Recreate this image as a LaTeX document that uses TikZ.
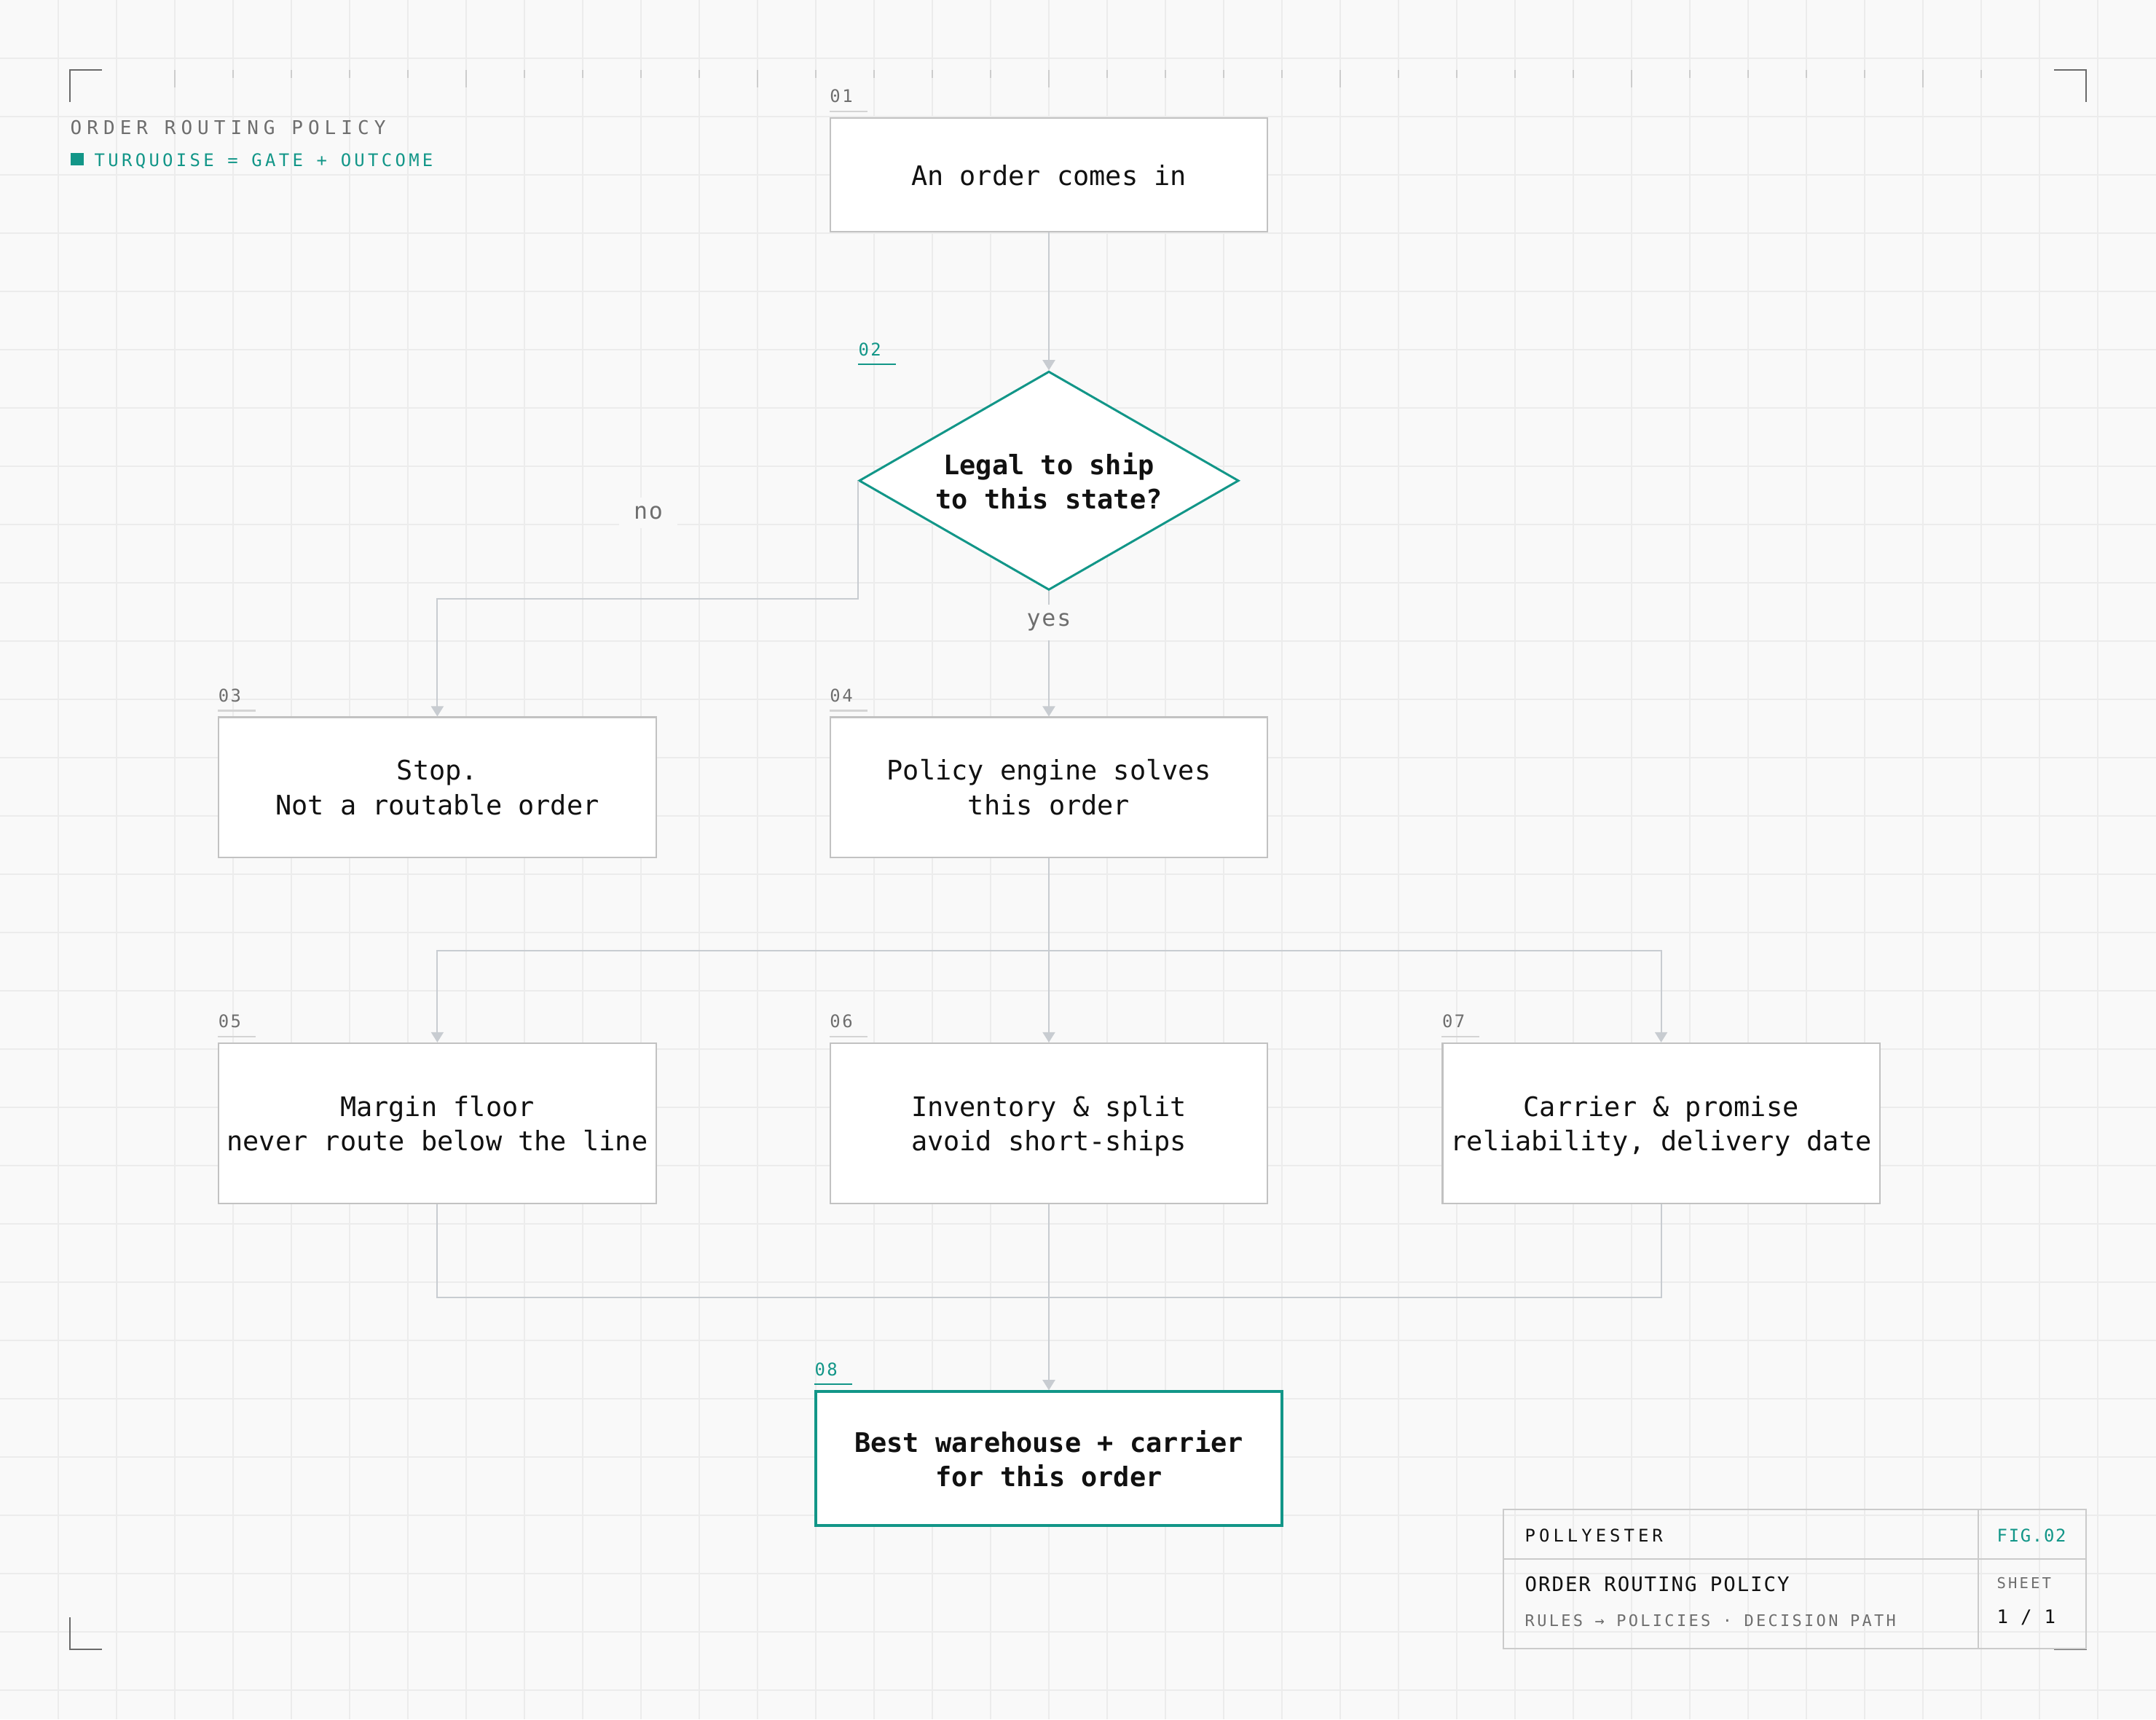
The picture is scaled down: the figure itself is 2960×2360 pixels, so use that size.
\documentclass[tikz,border=0pt]{standalone}
\usepackage{fontspec}
\setmainfont{DejaVu Sans Mono}
\usepackage{tikz}
\usetikzlibrary{shapes.geometric, arrows.meta, positioning, calc}
\definecolor{PageBG}{RGB}{249,249,249}
\definecolor{GridGray}{RGB}{236,236,236}
\definecolor{EdgeGray}{RGB}{194,194,194}
\definecolor{WireGray}{RGB}{200,204,209}
\definecolor{TickGray}{RGB}{205,205,205}
\definecolor{CornerGray}{RGB}{106,106,106}
\definecolor{LabelGray}{RGB}{110,110,110}
\definecolor{InkBlack}{RGB}{17,17,17}
\definecolor{GateTeal}{RGB}{18,150,136}
\newcommand{\trackby}[1]{\addfontfeatures{LetterSpace=#1}}

\begin{document}
\begin{tikzpicture}[
    x=0.01cm, y=-0.01cm,
    stepbox/.style={rectangle, draw=EdgeGray, line width=0.6pt, fill=white, text=InkBlack,
                    minimum width=6cm, inner sep=0pt, text depth=0pt, align=center,
                    font=\fontsize{10.5}{13.5}\selectfont},
    gatebox/.style={rectangle, draw=GateTeal, line width=1.1pt, fill=white, text=InkBlack,
                    minimum width=6.4cm, inner sep=0pt, text depth=0pt, align=center,
                    font=\fontsize{10.5}{13.5}\selectfont\bfseries},
    decision/.style={diamond, draw=GateTeal, line width=0.85pt, fill=white, text=InkBlack,
                     minimum width=5.21cm, minimum height=3cm, aspect=1.74, inner sep=0pt,
                     text depth=-0.07cm, align=center, font=\fontsize{10.5}{13.5}\selectfont\bfseries},
    tag/.style={anchor=base west, inner sep=0pt, text=LabelGray, font=\fontsize{6.8}{8}\selectfont\trackby{10}},
    gatetag/.style={tag, text=GateTeal},
    tagline/.style={draw=EdgeGray!70, line width=0.6pt},
    gatetagline/.style={draw=GateTeal, line width=0.6pt},
    branchlbl/.style={fill=PageBG, text=LabelGray, inner xsep=0.2cm, inner ysep=0.12cm,
                      font=\fontsize{9}{10}\selectfont\trackby{6}},
    wire/.style={draw=WireGray, line width=0.6pt},
    arrow/.style={wire, -{Triangle[width=0.17cm, length=0.14cm]}},
    gridline/.style={draw=GridGray, line width=0.5pt},
    tickmark/.style={draw=TickGray, line width=0.5pt},
    cornermark/.style={draw=CornerGray, line width=0.7pt},
    sheettext/.style={anchor=base west, inner sep=0pt, text=InkBlack}
]
\useasboundingbox (0,0) rectangle (2960,2360);
\fill[PageBG] (0,0) rectangle (2960,2360);

% Grid
\foreach \gx in {80,160,...,2880} \draw[gridline] (\gx,0) -- (\gx,2360);
\foreach \gy in {80,160,...,2320} \draw[gridline] (0,\gy) -- (2960,\gy);

% Ruler and corners
\foreach \tx in {240,320,...,2720} \draw[tickmark] (\tx,96) -- (\tx,107);
\foreach \tx in {240,640,...,2640} \draw[tickmark] (\tx,96) -- (\tx,120);
\draw[cornermark] (96,140) -- (96,96) -- (140,96);
\draw[cornermark] (2820,96) -- (2864,96) -- (2864,140);
\draw[cornermark] (96,2220) -- (96,2264) -- (140,2264);
\draw[cornermark] (2820,2264) -- (2864,2264) -- (2864,2220);

% Header
\node[anchor=base west, inner sep=0pt, text=LabelGray, font=\fontsize{7.4}{9}\selectfont\trackby{27}] (title) at (96,184) {ORDER ROUTING POLICY};
\node[fill=GateTeal, minimum width=0.18cm, minimum height=0.17cm, inner sep=0pt, anchor=south west] (legsq) at (96,228) {};
\node[anchor=base west, inner sep=0pt, text=GateTeal, font=\fontsize{6.8}{8}\selectfont\trackby{18}] (legend) at (129,228) {TURQUOISE = GATE + OUTCOME};

% Step 01
\node[stepbox, minimum height=1.56cm] (n01) at (1440,240) {An order comes in};

% Step 02 (gate)
\node[decision, below=1.89cm of n01] (n02) {Legal to ship\\to this state?};

% Steps 03 and 04
\node[stepbox, minimum height=1.92cm, below=1.72cm of n02] (n04) {Policy engine solves\\this order};
\node[stepbox, minimum height=1.92cm, left=2.37cm of n04] (n03) {Stop.\\Not a routable order};

% Steps 05 to 07
\node[stepbox, minimum height=2.2cm, below=2.53cm of n04] (n06) {Inventory \& split\\avoid short-ships};
\node[stepbox, minimum height=2.2cm, left=2.37cm of n06] (n05) {Margin floor\\never route below the line};
\node[stepbox, minimum height=2.2cm, right=2.38cm of n06] (n07) {Carrier \& promise\\reliability, delivery date};

% Step 08 (outcome)
\node[gatebox, minimum height=1.84cm, below=2.55cm of n06] (n08) {Best warehouse + carrier\\for this order};

% Tags
\node[tag] (t01) at ([yshift=0.2cm]n01.north west) {01};
\node[gatetag] (t02) at ([yshift=0.2cm]n02.west |- n02.north) {02};
\node[tag] (t03) at ([yshift=0.2cm]n03.north west) {03};
\node[tag] (t04) at ([yshift=0.2cm]n04.north west) {04};
\node[tag] (t05) at ([yshift=0.2cm]n05.north west) {05};
\node[tag] (t06) at ([yshift=0.2cm]n06.north west) {06};
\node[tag] (t07) at ([yshift=0.2cm]n07.north west) {07};
\node[gatetag] (t08) at ([yshift=0.2cm]n08.north west) {08};
\draw[tagline] ([yshift=0.08cm]n01.north west) -- ++(52,0);
\draw[gatetagline] ([yshift=0.08cm]n02.west |- n02.north) -- ++(52,0);
\draw[tagline] ([yshift=0.08cm]n03.north west) -- ++(52,0);
\draw[tagline] ([yshift=0.08cm]n04.north west) -- ++(52,0);
\draw[tagline] ([yshift=0.08cm]n05.north west) -- ++(52,0);
\draw[tagline] ([yshift=0.08cm]n06.north west) -- ++(52,0);
\draw[tagline] ([yshift=0.08cm]n07.north west) -- ++(52,0);
\draw[gatetagline] ([yshift=0.08cm]n08.north west) -- ++(52,0);

% Arrows
\coordinate[below=1.62cm of n02.west] (nobend);
\coordinate[below=1.27cm of n04] (fork);
\coordinate[below=1.28cm of n06] (join);
\draw[arrow] (n01) -- (n02);
\draw[arrow] (n02.west) -- (nobend) -| (n03.north);
\node[branchlbl] (lblno) at (890,704) {no};
\draw[arrow] (n02) -- node[branchlbl, pos=0.25] (lblyes) {yes} (n04);
\draw[wire] (n04) -- (fork);
\draw[arrow] (fork) -| (n05.north);
\draw[arrow] (fork) -- (n06);
\draw[arrow] (fork) -| (n07.north);
\draw[wire] (n05.south) |- (join);
\draw[wire] (n07.south) |- (join);
\draw[arrow] (n06) -- (n08);

% Sheet block
\draw[draw=EdgeGray!85, line width=0.6pt] (2064,2072) rectangle (2864,2263);
\draw[draw=EdgeGray!85, line width=0.6pt] (2064,2140) -- (2864,2140);
\draw[draw=EdgeGray!85, line width=0.6pt] (2716,2072) -- (2716,2263);
\node[sheettext, font=\fontsize{6.8}{8}\selectfont\trackby{21}] (brand) at (2093,2116) {POLLYESTER};
\node[sheettext, text=GateTeal, font=\fontsize{6.8}{8}\selectfont\trackby{7}] (fig) at (2741,2116) {FIG.02};
\node[sheettext, font=\fontsize{7.8}{9}\selectfont\trackby{7}] (sheettitle) at (2093,2184) {ORDER ROUTING POLICY};
\node[sheettext, text=LabelGray, font=\fontsize{6.25}{8}\selectfont\trackby{15}] (sheetsub) at (2093,2232) {RULES → POLICIES · DECISION PATH};
\node[sheettext, text=LabelGray, font=\fontsize{5.85}{7}\selectfont\trackby{15}] (sheetlbl) at (2741,2180) {SHEET};
\node[sheettext, font=\fontsize{7.3}{9}\selectfont\trackby{6}] (sheetnum) at (2741,2228) {1 / 1};

\end{tikzpicture}
\end{document}
